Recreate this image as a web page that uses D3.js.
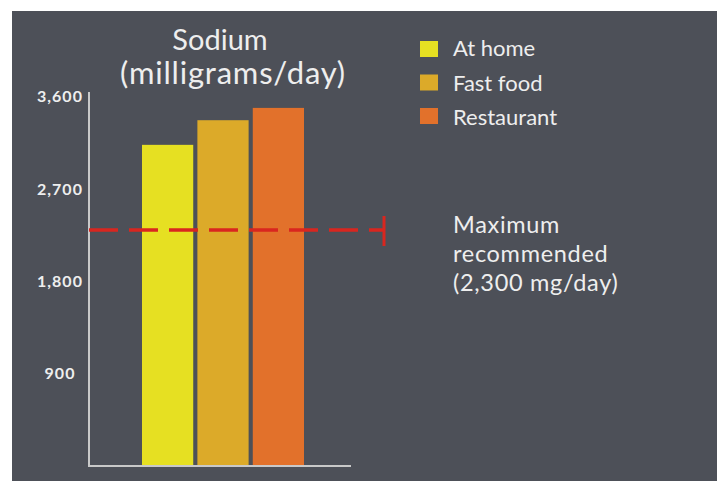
<!DOCTYPE html>
<html>
<head>
<meta charset="utf-8">
<script src="https://cdn.jsdelivr.net/npm/d3@7"></script>
<style>
    body { margin: 0; background: #fff; }
    text { font-family: Lato, "Open Sans", sans-serif; fill: #eeeeee; }
</style>
</head>
<body>
<div id="container"></div>
<script>
const w = 717, h = 481;

// data
const categories = ['At home', 'Fast food', 'Restaurant'];
const sodium = [3130, 3370, 3490];
const colors = ['#e6e022', '#dcaa29', '#e2712b'];
const tickValues = [900, 1800, 2700, 3600];
const maxRecommended = 2300;
const noteLines = ['Maximum', 'recommended', '(2,300 mg/day)'];

const svg = d3.select("#container")
    .append("svg")
    .attr("width", w)
    .attr("height", h);

// dark panel
svg.append("rect").attr("x", 12).attr("y", 11).attr("width", w - 12).attr("height", h - 11).attr("fill", '#4d5058');

// scales
const xScale = d3.scaleBand()
    .domain(categories)
    .range([142, 304])
    .paddingInner(0.075)
    .paddingOuter(0);
const yScale = d3.scaleLinear()
    .domain([0, maxRecommended])
    .range([466, 230]);

// bars
svg.selectAll(".bar")
    .data(categories)
    .enter()
    .append("rect")
    .attr("class", 'bar')
    .attr("x", d => xScale(d))
    .attr("y", (d, i) => yScale(sodium[i]))
    .attr("width", xScale.bandwidth())
    .attr("height", (d, i) => yScale(0) - yScale(sodium[i]))
    .attr("fill", (d, i) => colors[i]);

// axes lines
svg.append("line").attr("x1", 89).attr("x2", 89).attr("y1", 92).attr("y2", yScale(0))
    .attr("stroke", '#c9c9c9').attr("stroke-width", 2);
svg.append("line").attr("x1", 88).attr("x2", 351).attr("y1", yScale(0)).attr("y2", yScale(0))
    .attr("stroke", '#c9c9c9').attr("stroke-width", 2);

// y tick labels (centred under each other in the original)
const yAxis = d3.axisLeft(yScale)
    .tickValues(tickValues)
    .tickSize(0)
    .tickPadding(0)
    .tickFormat(d3.format(","));
const yG = svg.append("g")
    .attr("transform", "translate(60,0)")
    .call(yAxis);
yG.select(".domain").remove();
yG.selectAll("text")
    .attr("text-anchor", 'middle')
    .attr("fill", '#eeeeee')
    .style("font-family", 'Lato, sans-serif')
    .style("font-size", '16px')
    .style("letter-spacing", '1px')
    .style("font-weight", 'bold');

// max recommended line
svg.append("line")
    .attr("x1", 89).attr("x2", 384)
    .attr("y1", yScale(maxRecommended)).attr("y2", yScale(maxRecommended))
    .attr("stroke", '#d9261f').attr("stroke-width", 3.5)
    .attr("stroke-dasharray", '29,11');
svg.append("line")
    .attr("x1", 384).attr("x2", 384)
    .attr("y1", yScale(maxRecommended) - 14).attr("y2", yScale(maxRecommended) + 16)
    .attr("stroke", '#d9261f').attr("stroke-width", 3);

// note
svg.append("text")
    .attr("x", 453).attr("y", 233)
    .style("font-size", '23.5px')
    .style("letter-spacing", '0.7px')
    .selectAll("tspan")
    .data(noteLines)
    .enter()
    .append("tspan")
    .attr("x", 453)
    .attr("dy", (d, i) => i === 0 ? 0 : 29)
    .text(d => d);

// title
svg.append("text").attr("x", 220).attr("y", 50).attr("text-anchor", 'middle')
    .style("font-size", '29px').text('Sodium');
svg.append("text").attr("x", 233).attr("y", 84).attr("text-anchor", 'middle')
    .style("font-size", '31px').style("letter-spacing", '0.8px').text('(milligrams/day)');

// legend
const legend = svg.append("g").attr("id", 'legend');
categories.forEach((c, i) => {
    legend.append("rect").attr("x", 420).attr("y", 41 + i * 33.5).attr("width", 18).attr("height", 16).attr("fill", colors[i]);
    legend.append("text").attr("x", 453).attr("y", 56 + i * 34.5).style("font-size", '22px').text(c);
});
</script>
</body>
</html>
